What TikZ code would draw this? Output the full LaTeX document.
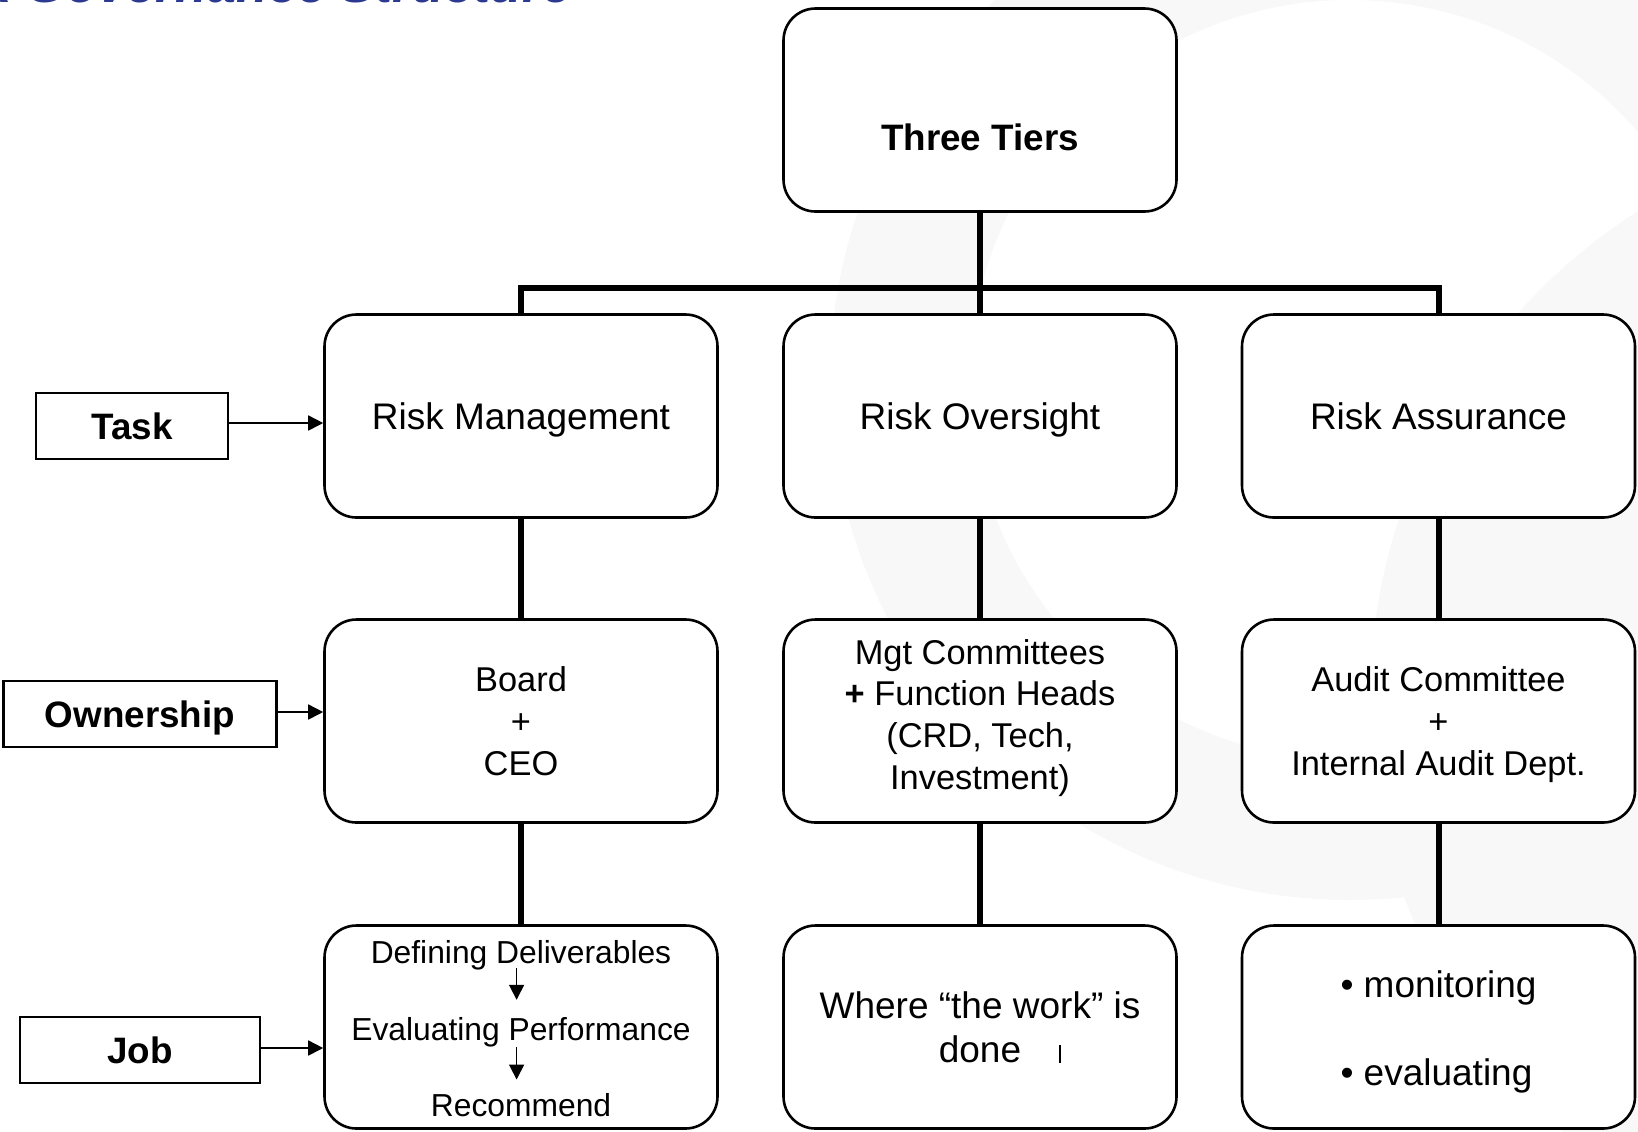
\documentclass[tikz,border=0pt]{standalone}
\usepackage{fontspec}
\setmainfont{Liberation Sans}
\usetikzlibrary{arrows.meta}
\definecolor{bggrey}{RGB}{248,248,248}
\definecolor{titleblue}{RGB}{43,57,144}
\begin{document}
\begin{tikzpicture}[x=0.5pt,y=-0.5pt,
  box/.style={draw=black,line width=1.3pt,fill=white,rounded corners=16pt,minimum width=196.5pt,minimum height=101.5pt,inner sep=0pt,align=center,text depth=0pt},
  lbl/.style={draw=black,line width=1.1pt,fill=white,inner sep=0pt,text depth=0pt,font=\fontsize{18.4}{22}\selectfont\bfseries},
  conn/.style={line width=3pt},
  arr/.style={line width=0.85pt,-{Triangle[length=7.5pt,width=7.5pt]}},
  big/.style={font=\fontsize{18.5}{22}\selectfont},
  mid/.style={font=\fontsize{17.2}{20.9}\selectfont},
  small/.style={font=\fontsize{15.9}{19}\selectfont,inner sep=0pt}]
\useasboundingbox (0,0) rectangle (1638,1131);
% faint background watermark
\begin{scope}
\clip (0,0) rectangle (1638,1131);
\fill[bggrey,even odd rule] (1350,380) circle[radius=520] (1350,380) circle[radius=380];
\fill[bggrey] (1950,700) circle[radius=580];
\end{scope}
% title (mostly cut off at the top)
\node[anchor=base west,inner sep=0pt,text=titleblue,font=\fontsize{26}{30}\selectfont\bfseries\itshape] (title) at (-99,2) {Risk Governance Structure};
% boxes
\node[box] (tiers) at (980,110) {};
\node[font=\fontsize{18.4}{22}\selectfont\bfseries] (tierstxt) at (980,137) {Three Tiers};
\node[box,big] (rm) at (521,416) {Risk Management};
\node[box,big] (ro) at (980,416) {Risk Oversight};
\node[box,big] (ra) at (1438.5,416) {Risk Assurance};
\node[box,mid] (bd) at (521,721) {Board\\+\\CEO};
\node[box,mid,text depth=6.7pt] (mc) at (980,721) {Mgt Committees\\\textbf{+} Function Heads\\(CRD, Tech,\\Investment)};
\node[box,mid] (ac) at (1438.5,721) {Audit Committee\\+\\Internal Audit Dept.};
\node[box] (jb) at (521,1027) {};
\node[small] (def) at (521,955) {Defining Deliverables};
\node[small] (eva) at (521,1032) {Evaluating Performance};
\node[small] (rec) at (521,1105) {Recommend};
\node[box,big] (wk) at (980,1027) {Where “the work” is\\done};
\node[box] (mon) at (1438.5,1027) {};
\node[big,align=left,text depth=0pt] (montxt) at (1438.5,1028) {• monitoring\\[22pt]• evaluating};
\draw[line width=1pt] (1060,1045) -- (1060,1063);
% connectors
\coordinate (bar) at (980,288);
\draw[conn] (rm.north) |- (bar) -| (ra.north);
\draw[conn] (tiers.south) -- (ro.north);
\draw[conn] (rm.south) -- (bd.north);
\draw[conn] (ro.south) -- (mc.north);
\draw[conn] (ra.south) -- (ac.north);
\draw[conn] (bd.south) -- (jb.north);
\draw[conn] (mc.south) -- (wk.north);
\draw[conn] (ac.south) -- (mon.north);
% inner arrows of the job box
\draw[arr,shorten <=-1pt,shorten >=8.5pt] ([xshift=-2.2pt]def.south) -- ([xshift=-2.2pt]eva.north);
\draw[arr,shorten >=6.7pt] ([xshift=-2.2pt]eva.south) -- ([xshift=-2.2pt]rec.north);
% side labels
\node[lbl,minimum width=95.75pt,minimum height=32.8pt] (task) at (132,426) {Task};
\node[lbl,minimum width=136.5pt,minimum height=33pt] (own) at (140,714) {Ownership};
\node[lbl,minimum width=120pt,minimum height=33pt] (job) at (140,1050) {Job};
\draw[arr] ([yshift=1.5pt]task.east) -- ([yshift=1.5pt]task.east -| rm.west);
\draw[arr] ([yshift=1pt]own.east) -- ([yshift=1pt]own.east -| bd.west);
\draw[arr] ([yshift=1pt]job.east) -- ([yshift=1pt]job.east -| jb.west);
\end{tikzpicture}
\end{document}
